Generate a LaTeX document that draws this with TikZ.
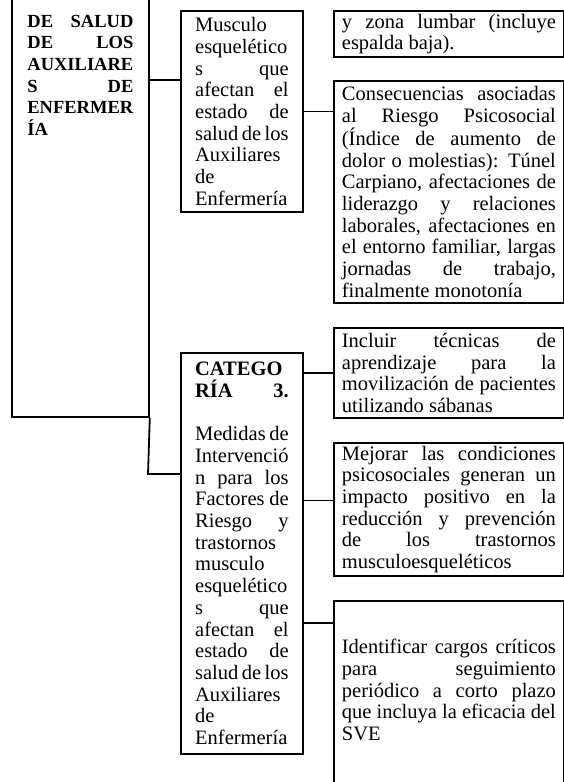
\documentclass[tikz,border=0pt]{standalone}
\usepackage{fontspec}
\setmainfont{Liberation Serif}

% one line of a box, spread over the whole width
\newcommand{\jl}[1]{\makebox[\linewidth][s]{#1}\\}

\tikzset{
  box/.style={draw, line width=1.8pt, anchor=north west, align=justify,
    inner ysep=3pt, font=\fontsize{20.5pt}{21.7pt}\selectfont},
  midbox/.style={box, text width=93.5pt, inner xsep=14.25pt},
  sidebox/.style={box, text width=214pt, inner xsep=8pt},
  conn/.style={line width=1.8pt}
}

\begin{document}
\begin{tikzpicture}[x=1pt,y=1pt]
                \useasboundingbox (0,0) rectangle (564,-782);

                % left column (box continues from the page before)
                \node[draw, line width=1.8pt, text width=106pt, inner xsep=15.5pt, inner ysep=0pt,
                      align=justify, font=\bfseries\fontsize{18.5pt}{21.7pt}\selectfont,
                      text height=60pt, text depth=390pt, anchor=base west] (cat) at (11,-27)
                      { \jl{DE SALUD}\jl{DE LOS}AUXILIARE\\ \jl{S DE}ENFERMER\\ ÍA };

                % middle column
                \node[midbox, minimum height=201pt] (m1) at (180,-10)
                      { Musculo\\ esquelético\\ \jl{s que}\jl{afectan el}\jl{estado de}\jl{salud de los}Auxiliares\\ de\\ Enfermería };
                \node[midbox, minimum height=401pt] (c3) at (180,-352)
                      { \textbf{CATEGO}\\ \jl{\textbf{RÍA 3.}}\mbox{}\\ \jl{Medidas de}Intervenció\\ \jl{n para los}\jl{Factores de}\jl{Riesgo y}trastornos\\ musculo\\ esquelético\\ \jl{s que}\jl{afectan el}\jl{estado de}\jl{salud de los}Auxiliares\\ de\\ Enfermería };

                % right column
                \node[sidebox, minimum height=45pt] (r1) at (333,-10)
                      { \jl{y zona lumbar (incluye}espalda baja). };
                \node[sidebox, minimum height=222pt] (r2) at (333,-80)
                      { \jl{Consecuencias asociadas}\jl{al Riesgo Psicosocial}\jl{(Índice de aumento de}\jl{dolor o molestias): Túnel}\jl{Carpiano, afectaciones de}\jl{liderazgo y relaciones}\jl{laborales, afectaciones en}\jl{el entorno familiar, largas}\jl{jornadas de trabajo,}finalmente monotonía };
                \node[sidebox, minimum height=90pt] (r3) at (333,-327)
                      { \jl{Incluir técnicas de}\jl{aprendizaje para la}\jl{movilización de pacientes}utilizando sábanas };
                \node[sidebox, minimum height=133pt] (r4) at (333,-442)
                      { \jl{Mejorar las condiciones}\jl{psicosociales generan un}\jl{impacto positivo en la}\jl{reducción y prevención}\jl{de los trastornos}musculoesqueléticos };
                \node[sidebox, minimum height=200pt] (r5) at (333,-600)
                      { \jl{Identificar cargos críticos}\jl{para seguimiento}\jl{periódico a corto plazo}\jl{que incluya la eficacia del}SVE\\ \mbox{} };

                \coordinate (q1) at (148,-80);
                \coordinate (q3) at (148,-474);
                \coordinate (q4) at ([yshift=9pt]r4.west);
                \coordinate (q5) at ([yshift=-23pt]r5.north west);

                \draw[conn] (q1) -- (q1 -| m1.west);
                \draw[conn] (cat.south east) -- (q3) -- (q3 -| c3.west);
                \draw[conn] (m1.east) -- (m1.east -| r2.west);
                \draw[conn] (c3.east |- r3.west) -- (r3.west);
                \draw[conn] (q4 -| c3.east) -- (q4);
                \draw[conn] (q5 -| c3.east) -- (q5);
            \end{tikzpicture}
\end{document}
